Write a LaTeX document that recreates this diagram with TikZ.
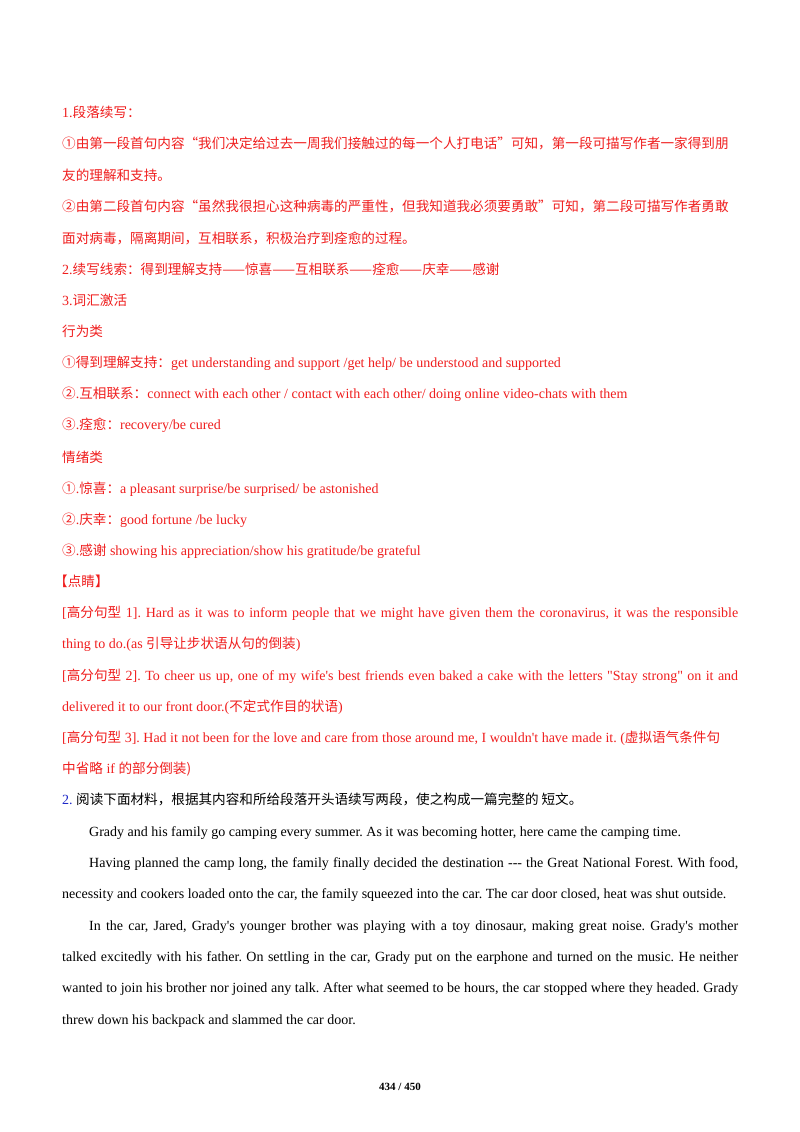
\documentclass[tikz,border=0pt]{standalone}
\usepackage{fontspec}
\setmainfont{Liberation Serif}
\newfontfamily\cjk{Noto Sans CJK SC}
\newcommand{\C}[1]{{\cjk\fontsize{13.6}{15}\selectfont #1}}
\newcommand{\J}[1]{\makebox[676pt][s]{#1}}
\newcommand{\Jb}[1]{\makebox[649pt][s]{#1}}
\newcommand{\sq}{\textquotesingle}
\newcommand{\dq}{\textquotedbl}
\definecolor{rd}{RGB}{240,30,30}
\definecolor{bl}{RGB}{30,40,200}
\frenchspacing
\begin{document}
\begin{tikzpicture}[x=1pt,y=1pt,
  ln/.style={anchor=base west,inner sep=0pt,font=\fontsize{14}{16}\selectfont},
  red/.style={ln,text=rd},
  blk/.style={ln,text=black}]
\useasboundingbox (0,0) rectangle (800,-1132);
\fill[white] (0,0) rectangle (800,-1132);
\node[red] (a1) at (62,-117) {1.\C{段落续写：}};
\node[red] (a2) at (62,-148) {\C{①由第一段首句内容“我们决定给过去一周我们接触过的每一个人打电话”可知，第一段可描写作者一家得到朋}};
\node[red] (a3) at (62,-180) {\C{友的理解和支持。}};
\node[red] (a4) at (62,-211) {\C{②由第二段首句内容“虽然我很担心这种病毒的严重性，但我知道我必须要勇敢”可知，第二段可描写作者勇敢}};
\node[red] (a5) at (62,-243) {\C{面对病毒，隔离期间，互相联系，积极治疗到痊愈的过程。}};
\node[red] (a6) at (62,-274) {2.\C{续写线索：得到理解支持——惊喜——互相联系——痊愈——庆幸——感谢}};
\node[red] (a7) at (62,-305) {3.\C{词汇激活}};
\node[red] (a8) at (62,-336) {\C{行为类}};
\node[red] (a9) at (62,-367) {\C{①得到理解支持：}get understanding and support /get help/ be understood and supported};
\node[red] (a10) at (62,-398) {\C{②}.\C{互相联系：}connect with each other / contact with each other/ doing online video-chats with them};
\node[red] (a11) at (62,-429) {\C{③}.\C{痊愈：}recovery/be cured};
\node[red] (a12) at (62,-462) {\C{情绪类}};
\node[red] (a13) at (62,-493) {\C{①}.\C{惊喜：}a pleasant surprise/be surprised/ be astonished};
\node[red] (a14) at (62,-524) {\C{②}.\C{庆幸：}good fortune /be lucky};
\node[red] (a15) at (62,-555) {\C{③}.\C{感谢} showing his appreciation/show his gratitude/be grateful};
\node[red] (a16) at (54,-586) {\C{【点睛】}};
\node[red] (a17) at (62,-617) {\J{[\C{高分句型} 1]. Hard as it was to inform people that we might have given them the coronavirus, it was the responsible}};
\node[red] (a18) at (62,-648) {thing to do.(as \C{引导让步状语从句的倒装})};
\node[red] (a19) at (62,-680) {\J{[\C{高分句型} 2]. To cheer us up, one of my wife\sq s best friends even baked a cake with the letters \dq Stay strong\dq{} on it and}};
\node[red] (a20) at (62,-711) {delivered it to our front door.(\C{不定式作目的状语})};
\node[red] (a21) at (62,-742) {[\C{高分句型} 3]. Had it not been for the love and care from those around me, I wouldn\sq t have made it. (\C{虚拟语气条件句}};
\node[red] (a22) at (62,-773) {\C{中省略} if \C{的部分倒装)}};
\node[blk] (b1) at (62,-804) {\textcolor{bl}{2.} \C{阅读下面材料，根据其内容和所给段落开头语续写两段，使之构成一篇完整的 短文。}};
\node[blk] (b2) at (89,-836) {Grady and his family go camping every summer. As it was becoming hotter, here came the camping time.};
\node[blk] (b3) at (89,-867) {\Jb{Having planned the camp long, the family finally decided the destination -{}-{}- the Great National Forest. With food,}};
\node[blk] (b4) at (62,-898) {necessity and cookers loaded onto the car, the family squeezed into the car. The car door closed, heat was shut outside.};
\node[blk] (b5) at (89,-930) {\Jb{In the car, Jared, Grady\sq s younger brother was playing with a toy dinosaur, making great noise. Grady\sq s mother}};
\node[blk] (b6) at (62,-961) {\J{talked excitedly with his father. On settling in the car, Grady put on the earphone and turned on the music. He neither}};
\node[blk] (b7) at (62,-992) {\J{wanted to join his brother nor joined any talk. After what seemed to be hours, the car stopped where they headed. Grady}};
\node[blk] (b8) at (62,-1024) {threw down his backpack and slammed the car door.};
\node[anchor=base,inner sep=0pt,font=\fontsize{11}{12}\selectfont\bfseries] (ft) at (400,-1090) {434 / 450};
\end{tikzpicture}
\end{document}
